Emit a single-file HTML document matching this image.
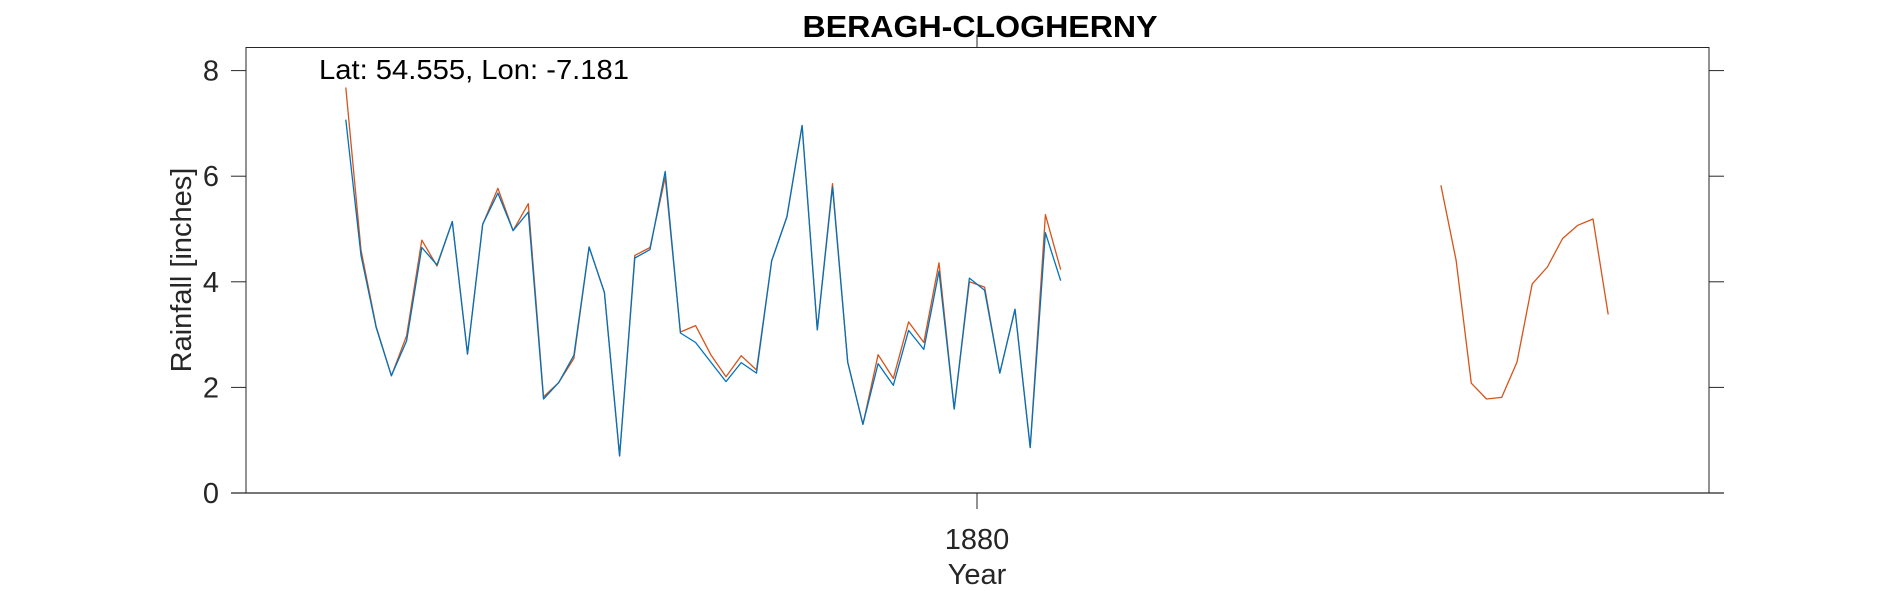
<!DOCTYPE html>
<html><head><meta charset="utf-8"><style>
html,body{margin:0;padding:0;background:#fff;}
svg{display:block;font-family:"Liberation Sans",Arial,sans-serif;}
</style></head><body>
<svg id="chart" width="1890" height="591" viewBox="0 0 1890 591">
<g id="axes"></g>
<g id="series"></g>
<text x="980" y="37" text-anchor="middle" font-weight="bold" font-size="31" textLength="355" lengthAdjust="spacingAndGlyphs" fill="#000">BERAGH-CLOGHERNY</text>
<text x="319" y="79" font-size="28" textLength="310" lengthAdjust="spacingAndGlyphs" fill="#000">Lat: 54.555, Lon: -7.181</text>
<text x="977" y="549" text-anchor="middle" font-size="29" fill="#262626">1880</text>
<text x="977" y="584" text-anchor="middle" font-size="29" fill="#262626">Year</text>
<text transform="translate(191,270) rotate(-90)" text-anchor="middle" font-size="29" fill="#262626">Rainfall [inches]</text>
</svg>
<script>
const yearsA = [1838,1839,1840,1841,1842,1843,1844,1845,1846,1847,1848,1849,1850,1851,1852,1853,1854,1855,1856,1857,1858,1859,1860,1861,1862,1863,1864,1865,1866,1867,1868,1869,1870,1871,1872,1873,1874,1875,1876,1877,1878,1879,1880,1881,1882,1883,1884,1885];
const blueVals = [7.07,4.5,3.13,2.22,2.88,4.65,4.32,5.14,2.63,5.09,5.68,4.97,5.32,1.78,2.09,2.61,4.66,3.8,0.70,4.45,4.61,6.09,3.03,2.85,2.48,2.11,2.47,2.27,4.40,5.23,6.96,3.09,5.80,2.48,1.30,2.45,2.04,3.08,2.72,4.2,1.59,4.07,3.84,2.27,3.48,0.86,4.93,4.02];
const orangeVals = [7.68,4.6,3.15,2.22,2.98,4.79,4.30,5.14,2.63,5.09,5.77,4.97,5.48,1.82,2.09,2.55,4.66,3.8,0.70,4.5,4.65,5.98,3.05,3.17,2.62,2.2,2.6,2.33,4.40,5.23,6.96,3.09,5.86,2.48,1.30,2.62,2.17,3.24,2.85,4.36,1.59,4.0,3.9,2.27,3.48,0.86,5.27,4.23];
const yearsB = [1910,1911,1912,1913,1914,1915,1916,1917,1918,1919,1920,1921];
const orangeValsB = [5.83,4.41,2.08,1.78,1.81,2.48,3.96,4.28,4.82,5.07,5.19,3.38];
const yTicks = [0,2,4,6,8];
const xTicks = [1880];

const L=246,R=1709,T=47.5,B=493;
const x = yr => 977 + (yr + 0.5 - 1880) * 15.21;
const xt = yr => 977 + (yr - 1880) * 15.21;
const y = v => 493 - v * 52.8;
const NS="http://www.w3.org/2000/svg";
const axes=document.getElementById('axes'), series=document.getElementById('series');
function mk(tag,attrs,parent){const e=document.createElementNS(NS,tag);for(const k in attrs)e.setAttribute(k,attrs[k]);parent.appendChild(e);return e;}

const box=mk('rect',{x:L,y:T,width:R-L,height:B-T,fill:'none',stroke:'#262626','stroke-width':1},axes);


const bl=mk('line',{x1:231,y1:B,x2:1724,y2:B,stroke:'#262626','stroke-width':1.3},axes);



yTicks.forEach(v=>{
  const t1=mk('line',{x1:231,y1:y(v),x2:L,y2:y(v),stroke:'#262626','stroke-width':1},axes);
  
  
  const t2=mk('line',{x1:R,y1:y(v),x2:1724,y2:y(v),stroke:'#262626','stroke-width':1},axes);
  
  
  const lb=mk('text',{x:211,y:y(v)+10,'text-anchor':'middle','font-size':29,fill:'#262626'},axes);
  lb.textContent=v;
  
  
});
xTicks.forEach(yr=>{
  const a=mk('line',{x1:xt(yr),y1:B,x2:xt(yr),y2:B+16,stroke:'#262626','stroke-width':1},axes);
  
  
  const b=mk('line',{x1:xt(yr),y1:T,x2:xt(yr),y2:T-13,stroke:'#262626','stroke-width':1},axes);
  
  
});

function line(xs,vs,color,name){
  const d=xs.map((yr,i)=>(i?'L':'M')+x(yr).toFixed(1)+' '+y(vs[i]).toFixed(1)).join(' ');
  const p=mk('path',{d:d,fill:'none',stroke:color,'stroke-width':1.3,'stroke-linejoin':'round'},series);
  
  
}
line(yearsA,orangeVals,'#D95319','orange-series-early');
line(yearsB,orangeValsB,'#D95319','orange-series-late');
line(yearsA,blueVals,'#0072BD','blue-series');
</script>
</body></html>
